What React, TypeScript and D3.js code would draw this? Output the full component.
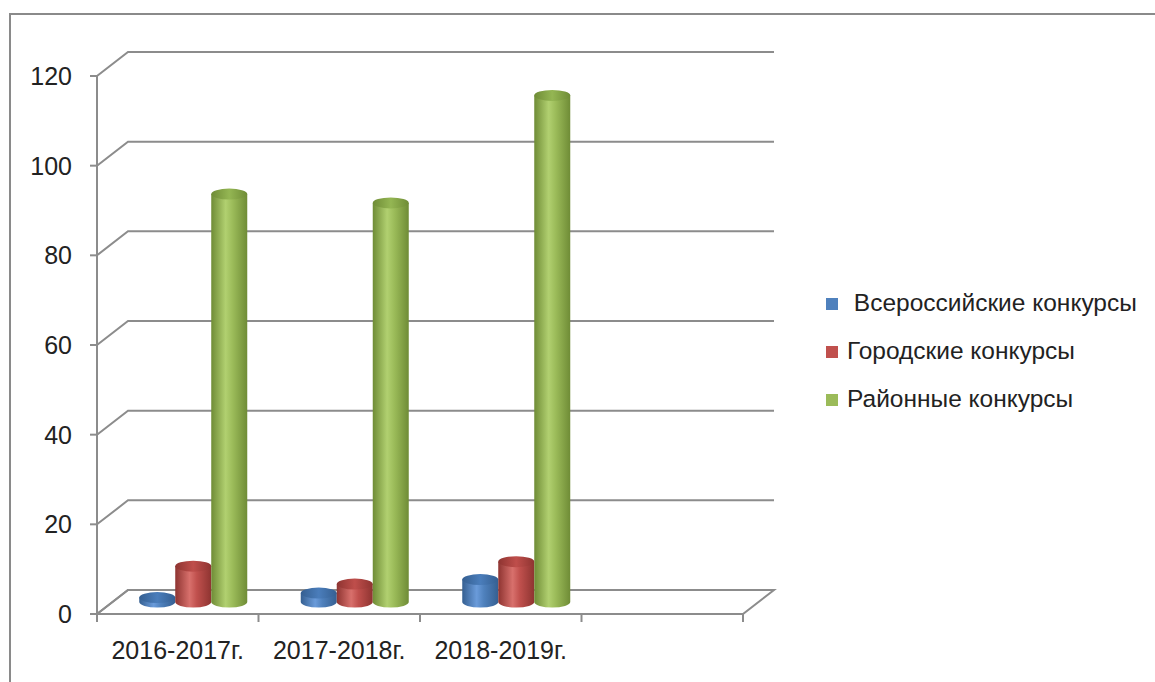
import React from 'react';
import * as d3 from 'd3';

const categories = ['2016-2017г.', '2017-2018г.', '2018-2019г.', ''];
const seriesNames = [' Всероссийские конкурсы', 'Городские конкурсы', 'Районные конкурсы'];
const allRussian = [1, 2, 5];
const city = [8, 4, 9];
const district = [91, 89, 113];
const yTicks = [0, 20, 40, 60, 80, 100, 120];

const seriesValues = [allRussian, city, district];
const palette = [
  { base: '#4F81BD', dark: '#355F91', light: '#6A9BDA', top: '#4A7DBB' },
  { base: '#C0504D', dark: '#8E3431', light: '#D8706C', top: '#BF4E4B' },
  { base: '#9BBB59', dark: '#6F8C36', light: '#B1D070', top: '#94B653' },
];

const W = 1155;
const H = 682;
const font = '"Liberation Sans", Arial, sans-serif';

const App = () => {
  const x0 = 97;
  const x1 = 743;
  const depthX = 31;
  const depthY = -24;

  const y = d3.scaleLinear().domain([0, 120]).range([614, 76]);
  const x = d3.scaleBand().domain(categories).range([x0, x1]);
  const inner = d3.scaleBand().domain(seriesNames).range([-54, 54]);

  const rx = inner.bandwidth() / 2;
  const ry = 5.5;
  const gridColor = '#8C8C8C';

  // bars stand at half the floor depth
  const mx = depthX / 2;
  const my = depthY / 2;

  const cylinders: JSX.Element[] = [];
  categories.forEach((cat, ci) => {
    seriesNames.forEach((s, si) => {
      const v = seriesValues[si][ci];
      if (v === undefined) return;
      const cx = (x(cat) as number) + x.bandwidth() / 2 + mx + (inner(s) as number) + rx;
      const yb = y(0) + my;
      const yt = y(v) + my;
      const l = cx - rx;
      const r = cx + rx;
      cylinders.push(
        <g key={`${ci}-${si}`}>
          <path
            d={`M${l},${yt} L${l},${yb} A${rx},${ry} 0 0 0 ${r},${yb} L${r},${yt} Z`}
            fill={`url(#grad${si})`}
          />
          <ellipse cx={cx} cy={yt} rx={rx} ry={ry} fill={`url(#top${si})`} />
        </g>
      );
    });
  });

  return (
    <svg
      width={W}
      height={H}
      style={{ position: 'absolute', left: 0, top: 0, background: '#fff' }}
    >
      <defs>
        {palette.map((p, i) => (
          <linearGradient key={i} id={`grad${i}`} x1="0" x2="1" y1="0" y2="0">
            <stop offset="0" stopColor={p.dark} />
            <stop offset="0.4" stopColor={p.light} />
            <stop offset="0.6" stopColor={p.base} />
            <stop offset="1" stopColor={p.dark} />
          </linearGradient>
        ))}
        {palette.map((p, i) => (
          <linearGradient key={i} id={`top${i}`} x1="0" x2="1" y1="0" y2="0">
            <stop offset="0" stopColor={p.dark} />
            <stop offset="0.5" stopColor={p.top} />
            <stop offset="1" stopColor={p.dark} />
          </linearGradient>
        ))}
      </defs>

      <rect x={10} y={14} width={W} height={H} fill="none" stroke="#8A8A8A" strokeWidth={2} />

      {/* back wall gridlines + side diagonals */}
      {yTicks.map((t) => (
        <g key={t}>
          <polyline
            points={`${x0},${y(t)} ${x0 + depthX},${y(t) + depthY} ${x1 + depthX},${y(t) + depthY}`}
            fill="none"
            stroke={gridColor}
            strokeWidth={2}
          />
          <line x1={x0 - 7} x2={x0} y1={y(t)} y2={y(t)} stroke={gridColor} strokeWidth={2} />
          <text
            x={72}
            y={y(t) + 9}
            textAnchor="end"
            fontFamily={font}
            fontSize={25}
            fill="#222"
          >
            {t}
          </text>
        </g>
      ))}

      {/* y axis */}
      <line x1={x0} x2={x0} y1={y(120)} y2={y(0)} stroke={gridColor} strokeWidth={2} />

      {/* floor */}
      <polygon
        points={`${x0},${y(0)} ${x0 + depthX},${y(0) + depthY} ${x1 + depthX},${y(0) + depthY} ${x1},${y(0)}`}
        fill="none"
        stroke={gridColor}
        strokeWidth={2}
      />

      {/* category ticks */}
      {[...categories.map((c) => x(c) as number), x1].map((px, i) => (
        <line key={i} x1={px} x2={px} y1={y(0)} y2={y(0) + 8} stroke={gridColor} strokeWidth={2} />
      ))}

      {cylinders}

      {categories.map((c) => (
        <text
          key={c}
          x={(x(c) as number) + x.bandwidth() / 2}
          y={659}
          textAnchor="middle"
          fontFamily={font}
          fontSize={25}
          fill="#222"
        >
          {c}
        </text>
      ))}

      {/* legend */}
      {seriesNames.map((s, i) => (
        <g key={s} transform={`translate(826, ${298 + i * 48})`}>
          <rect width={12} height={12} fill={palette[i].base} />
          <text
            x={21}
            y={13}
            fontFamily={font}
            fontSize={24.5}
            fill="#222"
            style={{ whiteSpace: 'pre' }}
          >
            {s}
          </text>
        </g>
      ))}
    </svg>
  );
};

export default App;
